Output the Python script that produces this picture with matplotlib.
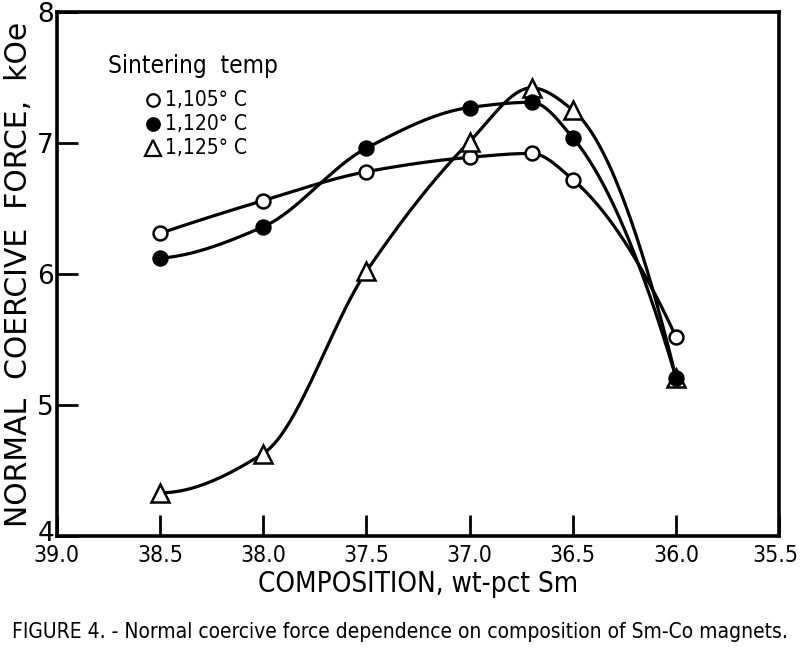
import numpy as np
import matplotlib
matplotlib.use("Agg")
import matplotlib.pyplot as plt
from matplotlib.transforms import ScaledTranslation

# composizione (wt-pct Sm) e forza coercitiva (kOe)
composition = [38.5, 38.0, 37.5, 37.0, 36.7, 36.5, 36.0]
hc_1105 = [6.31, 6.56, 6.78, 6.89, 6.92, 6.72, 5.52]
hc_1120 = [6.12, 6.36, 6.96, 7.27, 7.31, 7.04, 5.21]
hc_1125 = [4.33, 4.63, 6.02, 7.01, 7.42, 7.25, 5.21]
labels = ["1,105° C", "1,120° C", "1,125° C"]

x_ticks = [39.0, 38.5, 38.0, 37.5, 37.0, 36.5, 36.0, 35.5]
y_ticks = [4, 5, 6, 7, 8]

NARROW = dict(family="DejaVu Sans", stretch="condensed")


def smooth(x, y, n=300):
    # interpolazione PCHIP, solo per disegnare la curva tra i punti
    x = np.asarray(x, float)
    y = np.asarray(y, float)
    order = np.argsort(x)
    x, y = x[order], y[order]
    h = np.diff(x)
    d = np.diff(y) / h
    k = len(x)
    m = np.zeros(k)
    for i in range(1, k - 1):
        if d[i - 1] * d[i] > 0:
            w1 = 2 * h[i] + h[i - 1]
            w2 = h[i] + 2 * h[i - 1]
            m[i] = (w1 + w2) / (w1 / d[i - 1] + w2 / d[i])
    m[0] = ((2 * h[0] + h[1]) * d[0] - h[0] * d[1]) / (h[0] + h[1])
    if np.sign(m[0]) != np.sign(d[0]):
        m[0] = 0
    m[-1] = ((2 * h[-1] + h[-2]) * d[-1] - h[-1] * d[-2]) / (h[-1] + h[-2])
    if np.sign(m[-1]) != np.sign(d[-1]):
        m[-1] = 0
    xs = np.linspace(x[0], x[-1], n)
    idx = np.clip(np.searchsorted(x, xs) - 1, 0, k - 2)
    hh = h[idx]
    t = (xs - x[idx]) / hh
    h00 = 2 * t**3 - 3 * t**2 + 1
    h10 = t**3 - 2 * t**2 + t
    h01 = -2 * t**3 + 3 * t**2
    h11 = t**3 - t**2
    ys = h00 * y[idx] + h10 * hh * m[idx] + h01 * y[idx + 1] + h11 * hh * m[idx + 1]
    return xs, ys


fig = plt.figure(figsize=(8, 6.57), dpi=100)
ax = fig.add_axes([0.071, 0.184, 0.903, 0.798])

for ys in (hc_1105, hc_1120, hc_1125):
    sx, sy = smooth(composition, ys)
    ax.plot(sx, sy, color="black", lw=2.3, zorder=2)

ax.plot(composition, hc_1105, "o", ms=10, mfc="white", mec="black", mew=1.8, ls="none", zorder=3)
ax.plot(composition, hc_1125, "^", ms=13, mfc="white", mec="black", mew=1.8, ls="none", zorder=3)
ax.plot(composition, hc_1120, "o", ms=10, mfc="black", mec="black", mew=1.8, ls="none", zorder=4)

ax.set_xlim(39.0, 35.5)
ax.set_ylim(4, 8)
ax.set_xticks(x_ticks)
ax.set_xticklabels([f"{v:.1f}" for v in x_ticks], fontsize=16.5, **NARROW)
ax.set_yticks(y_ticks)
ax.set_yticklabels([str(v) for v in y_ticks], fontsize=19)
ax.tick_params(direction="in", length=15, width=2, pad=2)
ax.tick_params(axis="x", pad=6)
for s in ax.spines.values():
    s.set_linewidth(2.6)
# il "4" sta un po' sopra l'asse, e il "35.5" appena dentro il bordo
lab4 = ax.get_yticklabels()[0]
lab4.set_transform(lab4.get_transform() + ScaledTranslation(0, 4 / 72, fig.dpi_scale_trans))
lab_last = ax.get_xticklabels()[-1]
lab_last.set_transform(lab_last.get_transform() + ScaledTranslation(-3 / 72, 0, fig.dpi_scale_trans))

ax.set_xlabel("COMPOSITION, wt-pct Sm", fontsize=20, labelpad=2, **NARROW)
ax.set_ylabel("NORMAL  COERCIVE  FORCE,  kOe", fontsize=21.5, labelpad=3)

# legenda disegnata a mano
ax.text(0.071, 0.897, "Sintering  temp", transform=ax.transAxes, ha="left", va="center",
        fontsize=17.5, **NARROW)
leg_y = [0.832, 0.786, 0.740]
leg_style = [dict(marker="o", ms=9, mfc="white"),
             dict(marker="o", ms=9, mfc="black"),
             dict(marker="^", ms=11, mfc="white")]
for yy, st, lab in zip(leg_y, leg_style, labels):
    ax.plot([0.133], [yy], transform=ax.transAxes, ls="none", mec="black", mew=1.6, clip_on=False, **st)
    ax.text(0.150, yy, lab, transform=ax.transAxes, ha="left", va="center", fontsize=15, **NARROW)

fig.text(0.5, 0.038, "FIGURE 4. - Normal coercive force dependence on composition of Sm-Co magnets.",
         ha="center", va="center", fontsize=15, **NARROW)

fig.savefig("out.png", dpi=100)
